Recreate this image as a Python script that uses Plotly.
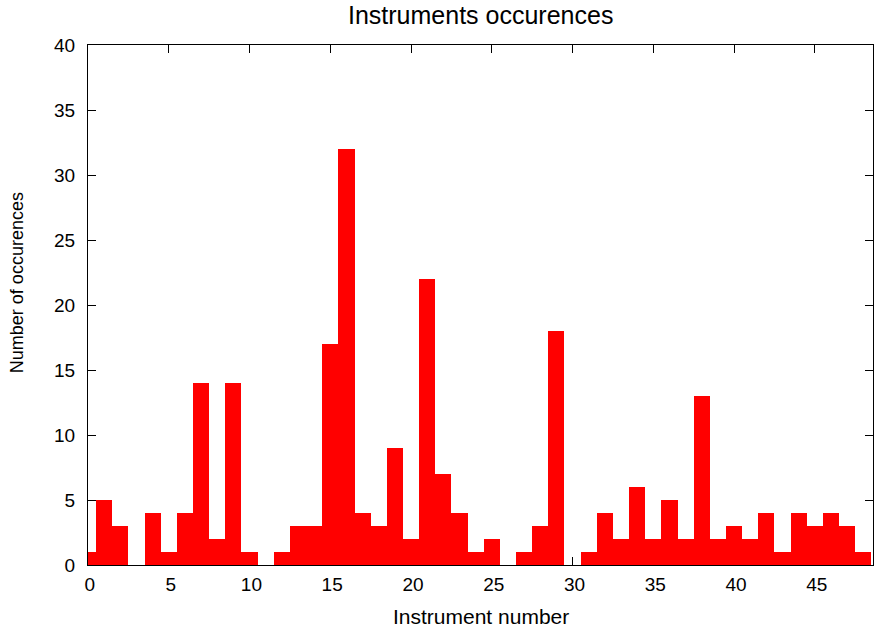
import plotly.graph_objects as go

instrument = list(range(49))
occurrences = [1, 5, 3, 0, 4, 1, 4, 14, 2, 14,
               1, 0, 1, 3, 3, 17, 32, 4, 3, 9,
               2, 22, 7, 4, 1, 2, 0, 1, 3, 18,
               0, 1, 4, 2, 6, 2, 5, 2, 13, 2,
               3, 2, 4, 1, 4, 3, 4, 3, 1]
x_ticks = [0, 5, 10, 15, 20, 25, 30, 35, 40, 45]
y_ticks = [0, 5, 10, 15, 20, 25, 30, 35, 40]

FONT = "Liberation Sans, Arial, Helvetica, sans-serif"

fig = go.Figure()
fig.add_trace(go.Bar(
    x=instrument, y=occurrences, width=1,
    marker=dict(color="#ff0000", line=dict(width=0)),
    hoverinfo="skip",
))

axis_common = dict(
    showline=True, linecolor="black", linewidth=1, mirror="ticks",
    ticks="inside", ticklen=8, tickcolor="black", tickwidth=1,
    showgrid=False, zeroline=False, layer="below traces",
    tickfont=dict(family=FONT, size=19, color="black"),
)

fig.update_layout(
    width=874, height=628,
    margin=dict(l=88, r=1, t=45, b=63),
    paper_bgcolor="white", plot_bgcolor="white",
    showlegend=False, bargap=0,
    xaxis=dict(range=[0, 48.6], tickvals=x_ticks,
               ticktext=["\u2009" + str(v) for v in x_ticks],
               ticklabelstandoff=2, **axis_common),
    yaxis=dict(range=[0, 40], tickvals=y_ticks, ticklabelstandoff=8, **axis_common),
    annotations=[
        dict(text="Instruments occurences", xref="paper", yref="paper",
             x=0.5, y=1, yshift=30, xanchor="center", yanchor="middle", showarrow=False,
             font=dict(family=FONT, size=25, color="black")),
        dict(text="Instrument number", xref="paper", yref="paper",
             x=0.5, y=0, yshift=-51, xanchor="center", yanchor="middle", showarrow=False,
             font=dict(family=FONT, size=21, color="black")),
        dict(text="Number of occurences", xref="paper", yref="paper",
             x=0, xshift=-71, y=0.542, xanchor="center", yanchor="middle",
             textangle=-90, showarrow=False,
             font=dict(family=FONT, size=18, color="black")),
    ],
)

fig.write_html("out.html", config={"displayModeBar": False},
               post_script="document.body.style.margin='0';")
